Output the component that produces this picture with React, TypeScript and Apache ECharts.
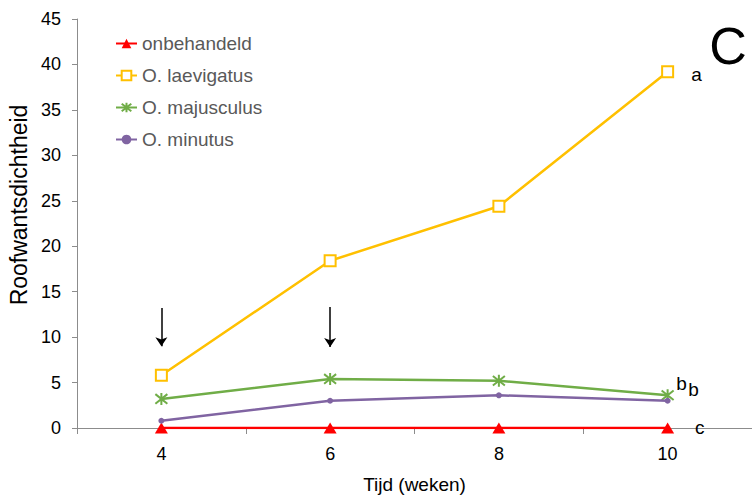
import React, { useEffect, useRef } from "react";
import * as echarts from "echarts";

const categories = ["4", "6", "8", "10"];
const onbehandeld = [0, 0, 0, 0];
const laevigatus = [5.8, 18.4, 24.4, 39.2];
const majusculus = [3.2, 5.4, 5.2, 3.6];
const minutus = [0.8, 3.0, 3.6, 3.0];
const seriesNames = ["onbehandeld", "O. laevigatus", "O. majusculus", "O. minutus"];
const significance = ["c", "a", "b", "b"];
const yMin = 0;
const yMax = 45;
const yStep = 5;
const arrowCategories = ["4", "6"];
const arrowFrom = [13.2, 13.3];
const arrowTo = [9.0, 8.9];

const FONT = "'Liberation Sans', Arial, Helvetica, sans-serif";

export default function App() {
  const ref = useRef<HTMLDivElement>(null);
  useEffect(() => {
    if (!ref.current) return;
    const chart = echarts.init(ref.current, null, { renderer: "svg" });
    const colors = ["#FF0000", "#FFC000", "#70AD47", "#8064A2"];
    const values = [onbehandeld, laevigatus, majusculus, minutus];
    const symbols = [
      "triangle",
      "rect",
      "path://M1,1L9,9M9,1L1,9M5,0L5,10",
      "circle",
    ];
    const symbolSizes: any[] = [[13, 11], 11, 12, 6];
    const letterOffsets = [
      [32, -1],
      [29, 3],
      [14, -12],
      [26, -11],
    ];
    const series: any[] = values.map((vals, i) => {
      const last = vals.length - 1;
      const s: any = {
        name: seriesNames[i],
        type: "line",
        data: vals,
        symbol: symbols[i],
        symbolSize: symbolSizes[i],
        showAllSymbol: true,
        z: 3 + i,
        lineStyle: { color: colors[i], width: 2.5 },
        itemStyle:
          i === 1
            ? { color: "#FFFFFF", borderColor: colors[i], borderWidth: 2 }
            : i === 2
            ? { color: colors[i], borderColor: colors[i], borderWidth: 2 }
            : { color: colors[i], borderWidth: 0 },
        emphasis: { disabled: true },
        markPoint: {
          silent: true,
          symbol: "circle",
          symbolSize: 1,
          itemStyle: { color: "transparent" },
          label: {
            show: true,
            position: "inside",
            offset: letterOffsets[i],
            formatter: significance[i],
            color: "#000",
            fontSize: 19,
            fontFamily: FONT,
          },
          data: [{ coord: [categories[last], vals[last]] }],
        },
      };
      if (i === 1) {
        s.markLine = {
          silent: true,
          symbol: ["none", "arrow"],
          symbolSize: [7, 10],
          itemStyle: { color: "#000" },
          lineStyle: { color: "#000", width: 1.5, type: "solid" },
          label: { show: false },
          emphasis: { disabled: true },
          data: arrowCategories.map((c, k) => [
            { coord: [c, arrowFrom[k]] },
            { coord: [c, arrowTo[k]], symbol: "arrow", symbolSize: 9 },
          ]),
        };
      }
      return s;
    });

    chart.setOption({
      animation: false,
      textStyle: { fontFamily: FONT },
      grid: { left: 77, right: 0, top: 19, bottom: 67, containLabel: false },
      legend: {
        orient: "vertical",
        left: 110,
        top: 29,
        itemWidth: 21,
        itemHeight: 12,
        itemGap: 13,
        textStyle: { fontSize: 19, color: "#595959", fontFamily: FONT, lineHeight: 19 },
        data: seriesNames,
      },
      xAxis: {
        type: "category",
        data: categories,
        boundaryGap: true,
        name: "Tijd (weken)",
        nameLocation: "middle",
        nameGap: 47,
        nameTextStyle: { fontSize: 19, color: "#000", fontFamily: FONT },
        axisLine: { lineStyle: { color: "#8C8C8C", width: 1 } },
        axisTick: { show: true, length: 6, lineStyle: { color: "#8C8C8C" } },
        axisLabel: { fontSize: 18, color: "#000", margin: 17, fontFamily: FONT },
      },
      yAxis: {
        type: "value",
        min: yMin,
        max: yMax,
        interval: yStep,
        axisLine: { show: true, lineStyle: { color: "#8C8C8C", width: 1 } },
        axisTick: { show: true, length: 5, lineStyle: { color: "#8C8C8C" } },
        splitLine: { show: false },
        axisLabel: { fontSize: 18, color: "#000", margin: 16, fontFamily: FONT },
      },
      graphic: [
        {
          type: "text",
          x: 19,
          y: 205,
          rotation: Math.PI / 2,
          style: {
            text: "Roofwantsdichtheid",
            textAlign: "center",
            textVerticalAlign: "middle",
            fontSize: 23,
            fill: "#000",
            fontFamily: FONT,
          },
        },
        {
          type: "text",
          x: 728,
          y: 46,
          style: {
            text: "C",
            textAlign: "center",
            textVerticalAlign: "middle",
            fontSize: 52,
            fill: "#000",
            fontFamily: FONT,
          },
        },
      ],
      series,
    });
    return () => chart.dispose();
  }, []);
  return (
    <div
      ref={ref}
      style={{ position: "fixed", left: 0, top: 0, width: 752, height: 499, background: "#fff" }}
    />
  );
}
